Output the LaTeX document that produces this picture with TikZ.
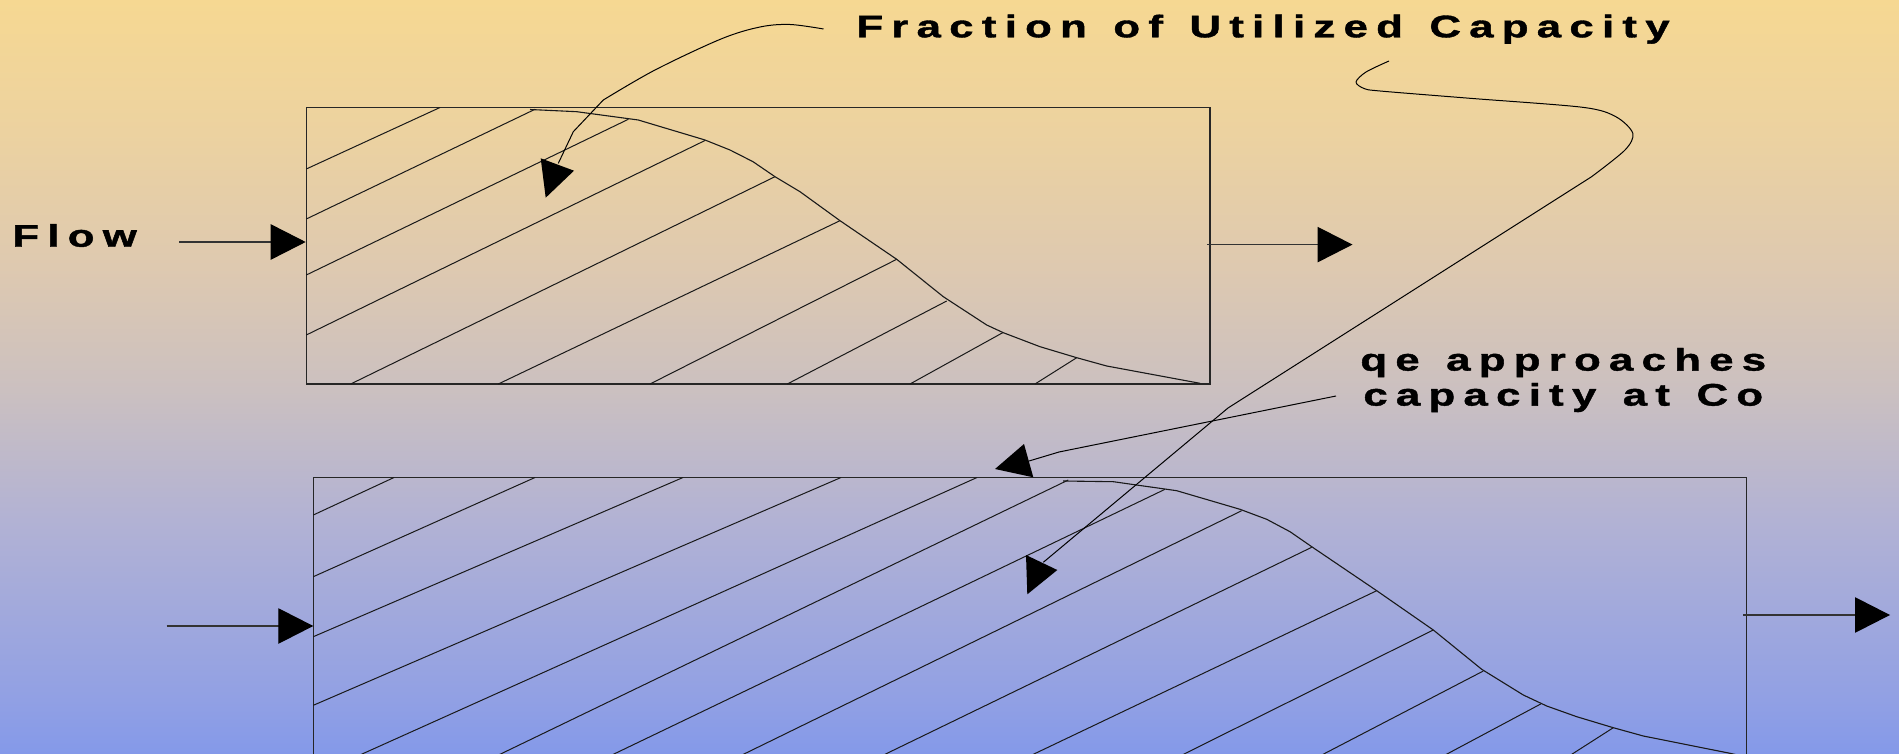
\documentclass[tikz,border=0pt]{standalone}
\usepackage{fontspec}
\usepackage{graphicx}
\newfontfamily\lblfont[LetterSpace=19,WordSpace=1.3,BoldFeatures={FakeBold=1.2}]{Liberation Sans}
\usetikzlibrary{arrows.meta}
\definecolor{cBa}{RGB}{132,153,233}
\definecolor{cBb}{RGB}{145,160,228}
\definecolor{cBc}{RGB}{178,178,212}
\definecolor{cBd}{RGB}{203,192,192}
\definecolor{cBe}{RGB}{222,201,176}
\definecolor{cBf}{RGB}{236,210,160}
\definecolor{cBg}{RGB}{246,216,146}
\pgfdeclareverticalshading{bgshade}{100bp}{color(0bp)=(cBa); color(25bp)=(cBa); color(28.6bp)=(cBb); color(40.5bp)=(cBc); color(49.15bp)=(cBd); color(57.3bp)=(cBe); color(66.2bp)=(cBf); color(75bp)=(cBg); color(100bp)=(cBg)}
\newcommand\widetext[1]{\scalebox{1.4}[1]{#1}}
\tikzset{
  boxline/.style={draw=black!85, line width=0.65pt},
  hatch/.style={draw=black!90, line width=0.5pt},
  curveline/.style={draw=black!90, line width=0.55pt, line join=round},
  conn/.style={draw=black, line width=0.5pt, line join=round},
  flowarr/.style={draw=black!80, line width=0.6pt, -{Triangle[length=17.5pt,width=17.7pt,color=black,fill=black]}},
  tri/.style={fill=black},
  lbl/.style={font=\lblfont\bfseries\fontsize{15.6}{18}\selectfont, inner sep=0pt, anchor=base west, text=black}
}
\begin{document}
\begin{tikzpicture}[x=0.5pt,y=-0.5pt]
\useasboundingbox (0,0) rectangle (1899,754);
\shade[shading=bgshade] (0,0) rectangle (1899,754);
\clip (0,0) rectangle (1899,754);

% labels
\node[lbl] (title) at (856,37.3) {\widetext{Fraction of Utilized Capacity}};
\node[lbl] (flow) at (12,246.7) {\widetext{Flow}};
\node[lbl] (qe1) at (1360,370.6) {\widetext{qe approaches}};
\node[lbl] (qe2) at (1363,405.6) {\widetext{capacity at Co}};

% boxes
\coordinate (b1nw) at (306.3,107.3);
\coordinate (b1se) at (1210,384);
\coordinate (b2nw) at (313.3,477.5);
\coordinate (b2se) at (1746.7,800);
\draw[boxline] (b1nw) rectangle (b1se);
\draw[boxline] (b2nw) rectangle (b2se);

% hatching, top box
\foreach \xa/\ya/\xb/\yb in {306.3/169/440/107.5, 306.3/219/535/109.3, 306.3/275/628.3/119.3, 306.3/335/705/140.5, 350.7/384/775/176.7, 498.3/384/840/220.7, 650/384/896.7/259.3, 787.3/384/946.7/301, 910/384/1002.7/332.7, 1035/384/1076.7/357.7}
  \draw[hatch] (\xa,\ya) -- (\xb,\yb);
% hatching, bottom box
\foreach \xa/\ya/\xb/\yb in {313.3/515/394/477.5, 313.3/576.7/535/477.5, 313.3/636.7/683/477.5, 313.3/705.3/841/477.5}
  \draw[hatch] (\xa,\ya) -- (\xb,\yb);
\foreach \xa/\ya/\xb/\yb in {365/752.7/977/477.5, 503.3/752.7/1068.3/480, 616.7/752.7/1165/489.3, 746.7/752.7/1241.7/510.7, 888.3/752.7/1311.7/547.3, 1036.7/752.7/1376.7/590.7, 1186.7/752.7/1433.3/630, 1325/753.3/1483.3/671, 1448.3/753.3/1540.7/704, 1573.3/753.3/1613.3/727.7}
  \draw[hatch, shorten <=-4pt] (\xa,\ya) -- (\xb,\yb);

% capacity curves
\draw[curveline] (530,109.5) -- (576.7,111.7) -- (638.3,120) -- (705,140) -- (730,150) -- (753,161.7) -- (775,176.7) -- (800,191.7) -- (840,220.7) -- (896.7,259.3) -- (943.3,296.7) -- (986.7,325) -- (1003.3,332.7) -- (1040,346.7) -- (1076.7,357.7) -- (1106.7,366) -- (1200,383.3);
\draw[curveline] (1063,481) -- (1113.3,481.7) -- (1176.7,490.7) -- (1240,509.3) -- (1266.7,519.3) -- (1290,531.7) -- (1311.7,546.7) -- (1376.7,590.7) -- (1433.3,630) -- (1481.7,669.3) -- (1523.3,695) -- (1546.7,706) -- (1576.7,716.7) -- (1613.3,727.7) -- (1643.3,736) -- (1730,753.3) -- (1746.7,757);

% flow arrows
\coordinate (fa0) at (179,242);
\coordinate (fa1) at (305.7,242);
\coordinate (fb0) at (1207,244.6);
\coordinate (fb1) at (1352.5,244.6);
\coordinate (fc0) at (166.7,626);
\coordinate (fc1) at (313.3,626);
\coordinate (fd0) at (1743,615);
\coordinate (fd1) at (1890,615);
\draw[flowarr] (fa0) -- (fa1);
\draw[flowarr] (fb0) -- (fb1);
\draw[flowarr] (fc0) -- (fc1);
\draw[flowarr] (fd0) -- (fd1);

% leader 1: Fraction of Utilized Capacity
\coordinate (l1s) at (823.5,29);
\coordinate (l1e) at (558.3,163.3);
\draw[conn] plot[smooth,tension=0.55] coordinates {(l1s) (790,24.5) (760,27) (721,39) (655,70) (603.3,100)} -- (573.3,131.7) -- (l1e);
\fill[tri] (540.7,158.3) -- (574,170.7) -- (545.7,197.7) -- cycle;

% leader 2: long curve
\coordinate (l2s) at (1389,61);
\coordinate (l2e) at (1043.3,562.3);
\draw[conn] plot[smooth,tension=0.5] coordinates {(l2s) (1366,72) (1356,82) (1364,88.5) (1380,91) (1470,98.3) (1582.6,107.3) (1615.8,116.7) (1632.8,133.3) (1625,150) (1591.6,176.7)} -- (1228,408) -- (l2e);
\fill[tri] (1026,555) -- (1057.3,570) -- (1027.3,594.3) -- cycle;

% leader 3: qe approaches capacity at Co
\coordinate (l3s) at (1336,396);
\coordinate (l3e) at (1029,461);
\draw[conn] (l3s) -- (1059,452) -- (l3e);
\fill[tri] (1024,444) -- (995,469) -- (1033.3,477.3) -- cycle;
\end{tikzpicture}
\end{document}
